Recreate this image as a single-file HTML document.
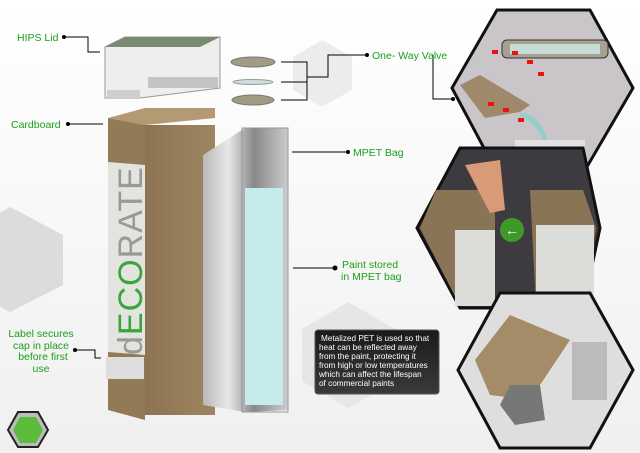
<!DOCTYPE html>
<html><head><style>
html,body{margin:0;padding:0;background:#fff;}
svg{display:block;font-family:"Liberation Sans",sans-serif;}
.g{fill:#1aa01a;font-size:10.5px;}
</style></head><body>
<svg width="640" height="453" viewBox="0 0 640 453" xmlns="http://www.w3.org/2000/svg">
<defs>
<linearGradient id="bg" x1="0" y1="0" x2="0" y2="1"><stop offset="0" stop-color="#fff"/><stop offset="1" stop-color="#f0f0f0"/></linearGradient>
<linearGradient id="silver" x1="0" y1="0" x2="1" y2="0"><stop offset="0" stop-color="#b8b8b8"/><stop offset="0.3" stop-color="#e8e8e8"/><stop offset="0.6" stop-color="#888"/><stop offset="1" stop-color="#ccc"/></linearGradient>
<linearGradient id="card" x1="0" y1="0" x2="1" y2="0"><stop offset="0" stop-color="#8c7452"/><stop offset="1" stop-color="#9e8562"/></linearGradient>
<linearGradient id="tb" x1="0" y1="0" x2="0" y2="1"><stop offset="0" stop-color="#1a1a1a"/><stop offset="1" stop-color="#3a3a3a"/></linearGradient>
</defs>
<rect width="640" height="453" fill="url(#bg)"/>
<!-- grey bg hexes (pointy-top) -->
<polygon points="322,40 352,57 352,90 322,107 293,90 293,57" fill="#ececec"/>
<polygon points="10,207 63,235 63,285 10,312 -40,285 -40,235" fill="#dcdcdc"/>
<polygon points="348,302 395,329 395,381 348,408 302,381 302,329" fill="#e6e6e6"/>
<!-- lid -->
<polygon points="105,47 125,37 220,37 220,88 140,98 105,98" fill="#eeeeee" stroke="#999" stroke-width="1"/>
<polygon points="105,47 125,37 220,37 200,47" fill="#7a8a70"/>
<rect x="148" y="77" width="70" height="11" fill="#c4c4c4"/>
<rect x="107" y="90" width="33" height="9" fill="#cfcfcf"/>
<!-- valve discs -->
<ellipse cx="253" cy="62" rx="22" ry="5" fill="#a39a84" stroke="#777"/>
<ellipse cx="253" cy="82" rx="20" ry="2.5" fill="#d0dde0" stroke="#999"/>
<ellipse cx="253" cy="100" rx="21" ry="5" fill="#a39a84" stroke="#777"/>
<!-- box -->
<polygon points="108,118 145,108 215,108 215,118 145,125" fill="#b39a72"/>
<rect x="145" y="125" width="70" height="290" fill="url(#card)"/>
<polygon points="108,118 145,125 145,420 108,410" fill="#937a57"/>
<polygon points="108,162 145,165 145,355 108,352" fill="#e3e3e0"/>
<text transform="translate(142,355) rotate(-90)" font-size="34" fill="#999" letter-spacing="1">d<tspan fill="#3aa63a">ECO</tspan>RATE</text>
<rect x="106" y="357" width="38" height="22" fill="#ddd"/>
<!-- bag -->
<polygon points="203,155 245,128 288,128 288,410 245,412 203,405" fill="url(#silver)"/>
<rect x="242" y="128" width="46" height="284" fill="none" stroke="#999"/>
<rect x="245" y="188" width="38" height="217" fill="#c4ecec"/>
<!-- lines -->
<g stroke="#000" stroke-width="1" fill="none">
<polyline points="64,37 88,37 88,52 100,52"/>
<line x1="68" y1="124" x2="103" y2="124"/>
<polyline points="281,62 307,62 307,100 281,100"/>
<line x1="281" y1="82" x2="307" y2="82"/>
<polyline points="307,77 328,77 328,55 367,55"/>
<line x1="292" y1="152" x2="348" y2="152"/>
<line x1="293" y1="268" x2="335" y2="268"/>
<polyline points="75,350 95,350 95,358 101,358"/>
<polyline points="433,55 433,99 453,99"/>
</g>
<g fill="#000"><circle cx="64" cy="37" r="2"/><circle cx="68" cy="124" r="2"/><circle cx="367" cy="55" r="2"/><circle cx="348" cy="152" r="2"/><circle cx="335" cy="268" r="2.5"/><circle cx="75" cy="350" r="2"/><circle cx="453" cy="99" r="2"/></g>
<!-- labels -->
<text class="g" x="17" y="41">HIPS Lid</text>
<text class="g" x="11" y="128">Cardboard</text>
<text class="g" x="372" y="59">One- Way Valve</text>
<text class="g" x="353" y="156">MPET Bag</text>
<text class="g" x="342" y="268">Paint stored</text>
<text class="g" x="341" y="280">in MPET bag</text>
<text class="g" text-anchor="middle" font-size="10"><tspan x="41" y="337">Label secures</tspan><tspan x="41" y="349">cap in place</tspan><tspan x="43" y="360">before first</tspan><tspan x="41" y="372">use</tspan></text>
<!-- text box -->
<rect x="315" y="330" width="124" height="64" rx="3" fill="url(#tb)" stroke="#555"/>
<text fill="#fff" font-size="8.2"><tspan x="321" y="341">Metalized PET is used so that</tspan><tspan x="319" y="350">heat can be reflected away</tspan><tspan x="319" y="359">from the paint, protecting it</tspan><tspan x="319" y="368">from high or low temperatures</tspan><tspan x="319" y="377">which can affect the lifespan</tspan><tspan x="319" y="386">of commercial paints</tspan></text>
<!-- right hexes -->
<polygon points="497,10 590,10 633,88 588,165 493,165 452,88" fill="#c9c5c8" stroke="#111" stroke-width="3"/>
<rect x="502" y="40" width="106" height="18" rx="5" fill="#a8a090" stroke="#333"/>
<rect x="510" y="44" width="90" height="10" fill="#c6ddd8"/>
<polygon points="460,85 480,75 530,105 520,112 485,118" fill="#a0896a"/>
<path d="M520,115 Q545,118 550,165" stroke="#8fd0cc" stroke-width="5" fill="none"/>
<rect x="515" y="140" width="70" height="25" fill="#e2e2e2"/>
<g fill="#e11"><rect x="492" y="50" width="6" height="4"/><rect x="512" y="51" width="6" height="4"/><rect x="527" y="60" width="6" height="4"/><rect x="538" y="72" width="6" height="4"/><rect x="488" y="102" width="6" height="4"/><rect x="503" y="108" width="6" height="4"/><rect x="518" y="118" width="6" height="4"/></g>
<polygon points="460,148 583,148 600,228 583,308 460,308 417,228" fill="#3e3b40" stroke="#111" stroke-width="3"/>
<polygon points="420,228 436,190 495,190 495,306 460,306" fill="#8a7456"/>
<rect x="455" y="230" width="40" height="76" fill="#dcdcd8"/>
<polygon points="530,190 583,190 596,228 583,306 536,306" fill="#8a7456"/>
<rect x="536" y="225" width="58" height="81" fill="#dcdcd8"/>
<polygon points="465,165 500,160 505,210 490,213" fill="#d99a78"/>
<circle cx="512" cy="230" r="12" fill="#3e9a28"/>
<text x="505" y="235" fill="#fff" font-size="14">&#x2190;</text>
<polygon points="500,293 590,293 633,370 590,448 500,448 458,370" fill="#dedede" stroke="#111" stroke-width="3"/>
<polygon points="475,360 510,315 570,340 530,400 490,395" fill="#a48c68"/>
<polygon points="500,405 510,385 540,385 545,420 515,425" fill="#777"/>
<rect x="572" y="342" width="35" height="58" fill="#bbb"/>
<!-- logo -->
<polygon points="18,412 38,412 48,430 38,447 18,447 8,430" fill="#bbb" stroke="#222" stroke-width="2"/>
<polygon points="20,417 36,417 43,430 36,443 20,443 13,430" fill="#5bbb3a"/>
</svg>
</body></html>
